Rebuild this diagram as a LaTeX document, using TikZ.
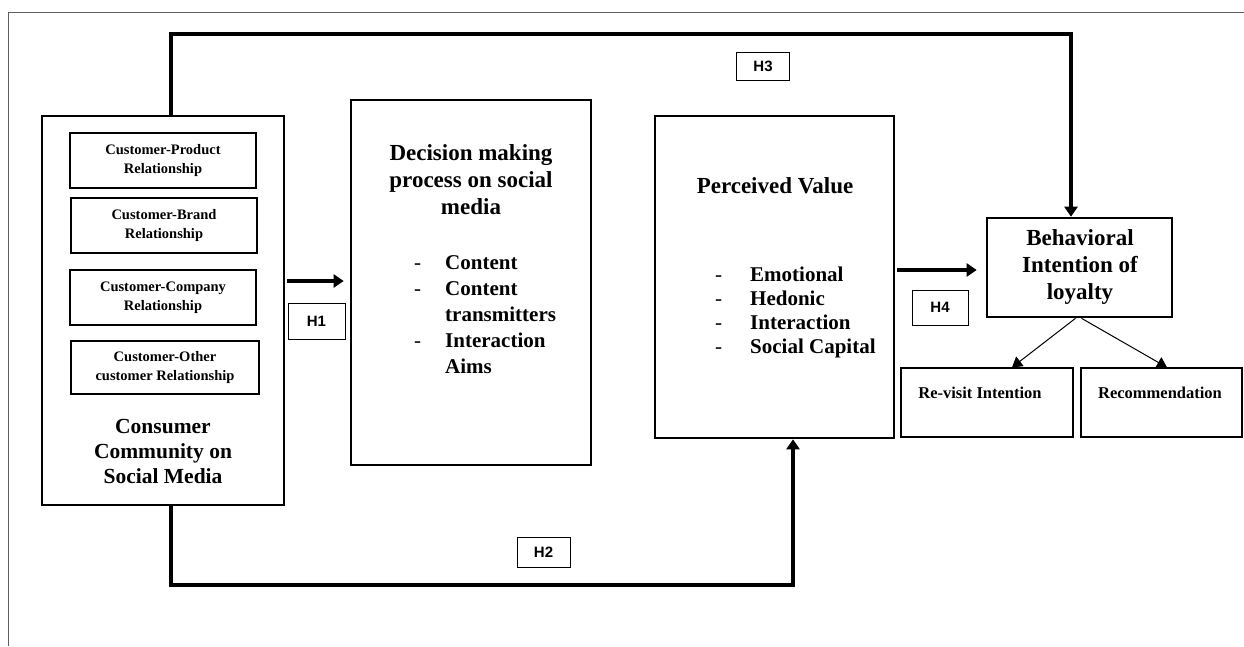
\documentclass[tikz,border=0pt]{standalone}
\usepackage{fontspec}
\setmainfont{Liberation Serif}
\newfontfamily\hfont{Liberation Sans}
\usetikzlibrary{arrows.meta}
\definecolor{framegray}{RGB}{95,95,95}
\begin{document}
\begin{tikzpicture}[x=1pt,y=-1pt,
  bigbox/.style={draw, rectangle, line width=2.6pt, inner sep=0pt},
  smallbox/.style={draw, rectangle, line width=1.2pt, inner sep=0pt, align=center,
    font=\bfseries\fontsize{14.5}{19}\selectfont},
  outbox/.style={draw, rectangle, line width=1.2pt, inner sep=0pt},
  hbox/.style={draw, rectangle, line width=1pt, inner sep=0pt,
    font=\hfont\bfseries\fontsize{15}{17}\selectfont},
  titletext/.style={align=center, inner sep=0pt, font=\bfseries\fontsize{23}{27}\selectfont},
  cctext/.style={align=center, inner sep=0pt, font=\bfseries\fontsize{21.5}{25}\selectfont},
  listtext/.style={inner sep=0pt, anchor=base west},
  outtext/.style={inner sep=0pt, font=\bfseries\fontsize{16.5}{19}\selectfont},
  thickconn/.style={line width=4.2pt, line join=miter, -{Triangle[length=10pt,width=13pt]}},
  thinconn/.style={line width=1pt, -{Triangle[length=10pt,width=12pt]}}
]
\useasboundingbox (0,0) rectangle (1244,646);
% outer frame
\draw[framegray, line width=1pt] (8,646) -- (8,12) -- (1244,12);

% Consumer community box
\node[bigbox, minimum width=242, minimum height=389] (ccm) at (163,310.5) {};
\node[smallbox, minimum width=186, minimum height=55] (cp) at (163,160.5) {Customer-Product\\Relationship};
\node[smallbox, minimum width=186, minimum height=55] (cb) at (164,225.5) {Customer-Brand\\Relationship};
\node[smallbox, minimum width=186, minimum height=55] (cc) at (163,297.5) {Customer-Company\\Relationship};
\node[smallbox, minimum width=188, minimum height=53] (co) at (165,367.5) {Customer-Other\\customer Relationship};
\node[cctext] (cct) at (163,451) {Consumer\\Community on\\Social Media};

% Decision making box
\node[bigbox, minimum width=240, minimum height=365] (dm) at (471,282.5) {};
\node[titletext] (dmt) at (471,180) {Decision making\\process on social\\media};
\node[listtext, font=\bfseries\fontsize{21}{26}\selectfont] (dml) at (414,269)
  {\begin{tabular}[t]{@{}l@{}l@{}}
   \makebox[31pt][l]{\mdseries-} & Content\\
   \makebox[31pt][l]{\mdseries-} & Content\\
   & transmitters\\
   \makebox[31pt][l]{\mdseries-} & Interaction\\
   & Aims
  \end{tabular}};

% Perceived value box
\node[bigbox, minimum width=239, minimum height=322] (pv) at (774.5,277) {};
\node[titletext] (pvt) at (775,186) {Perceived Value};
\node[listtext, font=\bfseries\fontsize{21}{24}\selectfont] (pvl) at (715,281)
  {\begin{tabular}[t]{@{}l@{}l@{}}
   \makebox[35pt][l]{\mdseries-} & Emotional\\
   \makebox[35pt][l]{\mdseries-} & Hedonic\\
   \makebox[35pt][l]{\mdseries-} & Interaction\\
   \makebox[35pt][l]{\mdseries-} & Social Capital
  \end{tabular}};

% Behavioral intention box
\node[bigbox, minimum width=185, minimum height=99] (bi) at (1079.5,267.5) {};
\node[titletext] (bit) at (1080,267) {Behavioral\\Intention of\\loyalty};

% outcome boxes
\node[outbox, minimum width=172, minimum height=69] (rv) at (987,402.5) {};
\node[outtext] (rvt) at (980,393) {Re-visit Intention};
\node[outbox, minimum width=161, minimum height=69] (rc) at (1161.5,402.5) {};
\node[outtext] (rct) at (1160,393) {Recommendation};

% hypothesis labels
\node[hbox, minimum width=57, minimum height=36] (h1) at (316.5,321) {H1};
\node[hbox, minimum width=53, minimum height=30] (h2) at (543.5,552) {H2};
\node[hbox, minimum width=53, minimum height=28] (h3) at (763,66) {H3};
\node[hbox, minimum width=56, minimum height=35] (h4) at (940,307.5) {H4};

% route coordinates
\coordinate (a1) at (0,281);
\coordinate (a4) at (0,270);
\coordinate (h3l) at (171,34);
\coordinate (h3r) at (1071,34);
\coordinate (h2l) at (171,585);
\coordinate (h2r) at (793,585);

% connectors
\draw[thickconn, shorten <=2pt, shorten >=6pt] (ccm.east |- a1) -- (dm.west |- a1);
\draw[thickconn, shorten <=2pt, shorten >=9pt] (pv.east |- a4) -- (bi.west |- a4);
\draw[thickconn] (ccm.north -| h3l) -- (h3l) -- (h3r) -- (bi.north -| h3r);
\draw[thickconn] (ccm.south -| h2l) -- (h2l) -- (h2r) -- (pv.south -| h2r);
\draw[thinconn] ([xshift=-4pt]bi.south) -- ([xshift=25pt]rv.north);
\draw[thinconn] ([xshift=2pt]bi.south) -- ([xshift=5.5pt]rc.north);
\end{tikzpicture}
\end{document}
